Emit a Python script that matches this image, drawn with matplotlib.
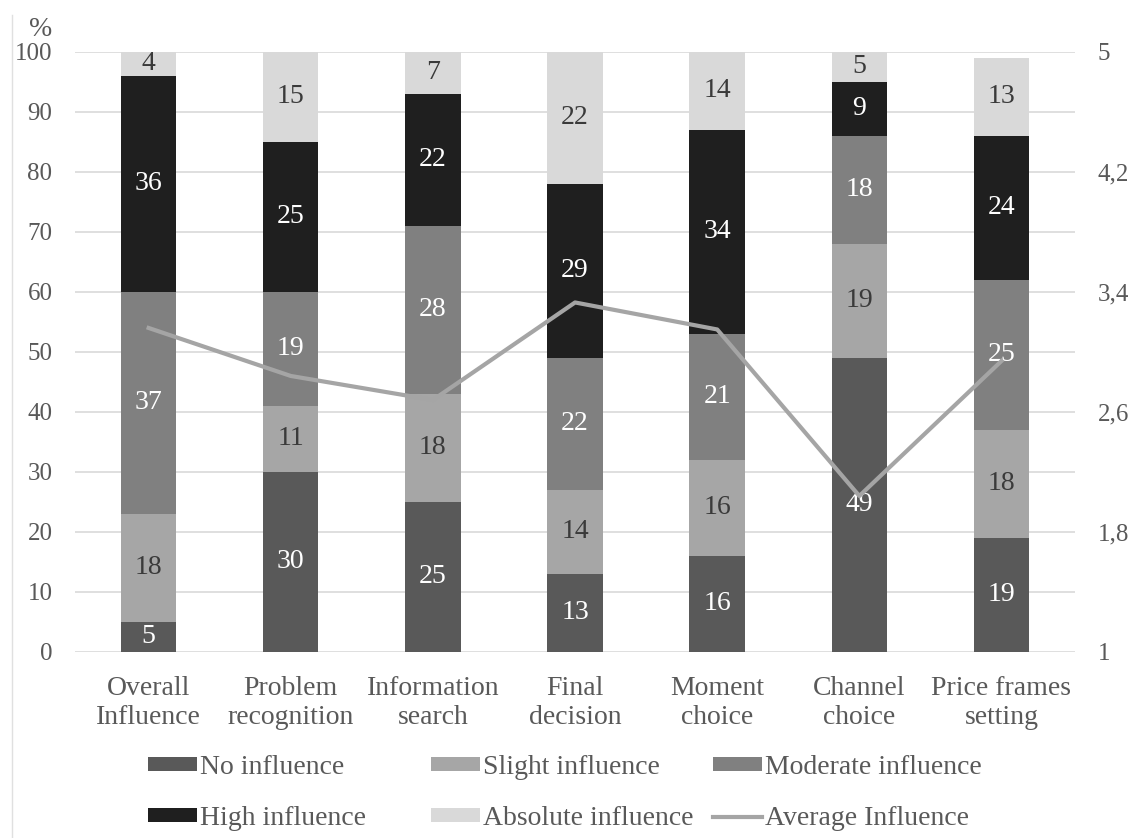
import matplotlib.pyplot as plt
from matplotlib.lines import Line2D
import numpy as np

plt.rcParams['font.family'] = ['Liberation Serif', 'DejaVu Serif']

STAGES = ['Overall\nInfluence', 'Problem\nrecognition', 'Information\nsearch',
          'Final\ndecision', 'Moment\nchoice', 'Channel\nchoice', 'Price frames\nsetting']

NO_INFLUENCE = [5, 30, 25, 13, 16, 49, 19]
SLIGHT_INFLUENCE = [18, 11, 18, 14, 16, 19, 18]
MODERATE_INFLUENCE = [37, 19, 28, 22, 21, 18, 25]
HIGH_INFLUENCE = [36, 25, 22, 29, 34, 9, 24]
ABSOLUTE_INFLUENCE = [4, 15, 7, 22, 14, 5, 13]
AVERAGE_INFLUENCE = [3.16, 2.84, 2.68, 3.33, 3.15, 2.04, 2.94]

LEFT_TICKS = [0, 10, 20, 30, 40, 50, 60, 70, 80, 90, 100]
RIGHT_TICKS = [1, 1.8, 2.6, 3.4, 4.2, 5]

GREY_TEXT = '#595959'
FS = 20

series = [
    ('No influence', NO_INFLUENCE, '#595959', 'white'),
    ('Slight influence', SLIGHT_INFLUENCE, '#a6a6a6', '#3a3a3a'),
    ('Moderate influence', MODERATE_INFLUENCE, '#808080', 'white'),
    ('High influence', HIGH_INFLUENCE, '#1f1f1f', 'white'),
    ('Absolute influence', ABSOLUTE_INFLUENCE, '#d9d9d9', '#3a3a3a'),
]

fig = plt.figure(figsize=(11.32, 8.38), dpi=100)
ax = fig.add_axes([0.066, 0.222, 0.884, 0.716])
x = np.arange(len(STAGES))

# stacked bars with value labels centred in each segment
bottom = np.zeros(len(STAGES))
bars = {}
for name, vals, color, txt in series:
    vals = np.array(vals, dtype=float)
    b = ax.bar(x, vals, 0.39, bottom=bottom, color=color, label=name, zorder=2)
    bars[name] = b
    for xi, v, b0 in zip(x, vals, bottom):
        top = min(b0 + v, 100)
        ax.text(xi, (b0 + top) / 2, f'{int(v)}', ha='center', va='center',
                color=txt, fontsize=FS, zorder=4)
    bottom += vals

ax.set_xlim(-0.52, len(STAGES) - 0.48)
ax.set_ylim(0, 100)
ax.set_yticks(LEFT_TICKS)
ax.yaxis.grid(True, color='#d9d9d9', linewidth=1.2, zorder=0)
ax.set_axisbelow(True)
for s in ax.spines.values():
    s.set_visible(False)
ax.tick_params(axis='x', length=0, labelsize=FS, colors=GREY_TEXT, pad=17)
ax.tick_params(axis='y', length=0, labelsize=FS - 2, colors=GREY_TEXT, pad=16)
ax.set_xticks(x)
ax.set_xticklabels(STAGES, fontsize=FS, color=GREY_TEXT, linespacing=1.22)
ax.text(-0.022, 1.038, '%', transform=ax.transAxes, ha='right', va='center',
        fontsize=FS, color=GREY_TEXT)

# average influence on the secondary scale
ax2 = ax.twinx()
ax2.set_ylim(1, 5)
ax2.set_yticks(RIGHT_TICKS)
ax2.set_yticklabels([f'{t:g}'.replace('.', ',') for t in RIGHT_TICKS])
for s in ax2.spines.values():
    s.set_visible(False)
ax2.tick_params(axis='y', length=0, labelsize=FS - 2, colors=GREY_TEXT, pad=16)
line, = ax2.plot(x, AVERAGE_INFLUENCE, color='#a5a5a5', linewidth=3,
                 label='Average Influence', zorder=3)

# left edge of the chart area border
fig.add_artist(Line2D([0.011, 0.011], [0.0, 0.982], color='#e0e0e0', linewidth=1))

# legend laid out as three fixed-position columns
columns = [
    (148, [bars['No influence'], bars['High influence']],
     ['No influence', 'High influence']),
    (431, [bars['Slight influence'], bars['Absolute influence']],
     ['Slight influence', 'Absolute influence']),
    (713, [bars['Moderate influence'], line],
     ['Moderate influence', 'Average Influence']),
]
for px, hs, ls in columns:
    leg = fig.legend(hs, ls, loc='center left',
                     bbox_to_anchor=(px / 1132, 1 - 793 / 838),
                     frameon=False, fontsize=FS, borderpad=0, borderaxespad=0,
                     handlelength=1.75, handleheight=0.42, handletextpad=0.12,
                     labelspacing=0.95)
    for t in leg.get_texts():
        t.set_color(GREY_TEXT)

fig.savefig('out.png', dpi=100)
